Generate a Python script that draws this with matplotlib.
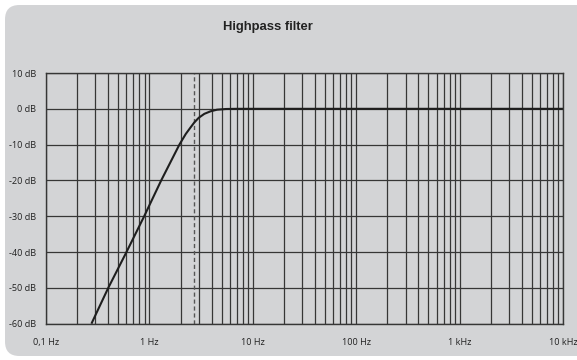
import matplotlib
matplotlib.use("Agg")
from matplotlib import pyplot as plt
from matplotlib.patches import FancyBboxPatch
from matplotlib.ticker import FixedLocator, NullFormatter

# response (Hz, dB)
freq = [0.275, 0.4, 0.6, 0.89, 1.3, 1.95, 2.25, 2.5, 2.72, 3.0, 3.4, 3.9, 4.5, 5.5, 7.0, 10000]
gain = [-60, -50, -40, -30, -20, -10, -7, -5.2, -3.8, -2.5, -1.4, -0.7, -0.25, -0.05, 0, 0]
cutoff = 2.72

x_ticks = [0.1, 1, 10, 100, 1000, 10000]
x_labels = ['0,1 Hz', '1 Hz', '10 Hz', '100 Hz', '1 kHz', '10 kHz']
y_ticks = [10, 0, -10, -20, -30, -40, -50, -60]
y_labels = ['10 dB', '0 dB', '-10 dB', '-20 dB', '-30 dB', '-40 dB', '-50 dB', '-60 dB']

bg = '#d3d4d6'
grid = '#363636'

fig = plt.figure(figsize=(5.77, 3.6), dpi=100)
fig.patch.set_facecolor('white')
panel = FancyBboxPatch((5 / 577, 4 / 360), 600 / 577, 351 / 360,
                       boxstyle="round,pad=0,rounding_size=0.025",
                       transform=fig.transFigure, facecolor=bg, edgecolor='none',
                       mutation_aspect=577 / 360, zorder=-10)
fig.patches.append(panel)

ax = fig.add_axes([46 / 577, 1 - 323.7 / 360, 517 / 577, 250.7 / 360])
ax.set_facecolor(bg)
ax.set_xscale('log')
ax.set_xlim(0.1, 10000)
ax.set_ylim(-60, 10)

minor = [m * 10.0 ** d for d in range(-1, 4) for m in range(2, 10)]
ax.xaxis.set_major_locator(FixedLocator(x_ticks))
ax.xaxis.set_minor_locator(FixedLocator(minor))
ax.xaxis.set_minor_formatter(NullFormatter())
ax.set_xticks(x_ticks)
ax.set_xticklabels(x_labels)
ax.set_yticks(y_ticks)
ax.set_yticklabels(y_labels)
ax.grid(True, which='both', axis='x', color=grid, lw=0.9)
ax.grid(True, which='major', axis='y', color=grid, lw=0.9)
ax.tick_params(which='both', length=0, labelsize=6.6, colors='#222222')
ax.tick_params(axis='x', pad=10)
ax.tick_params(axis='y', pad=7)
for lab in ax.get_xticklabels() + ax.get_yticklabels():
    lab.set_family('Open Sans')
for s in ax.spines.values():
    s.set_color(grid)
    s.set_linewidth(1.0)

ax.axvline(cutoff, color='#555555', lw=1.0, ls=(0, (3, 2)))
ax.plot(freq, gain, color='#1e1e1e', lw=1.5, solid_capstyle='butt')

fig.text(267.5 / 577, 1 - 27 / 360, 'Highpass filter', ha='center', va='center',
         fontsize=9.4, fontweight='bold', family='Liberation Sans', color='#222222')

fig.savefig('out.png', dpi=100, facecolor=fig.get_facecolor())
